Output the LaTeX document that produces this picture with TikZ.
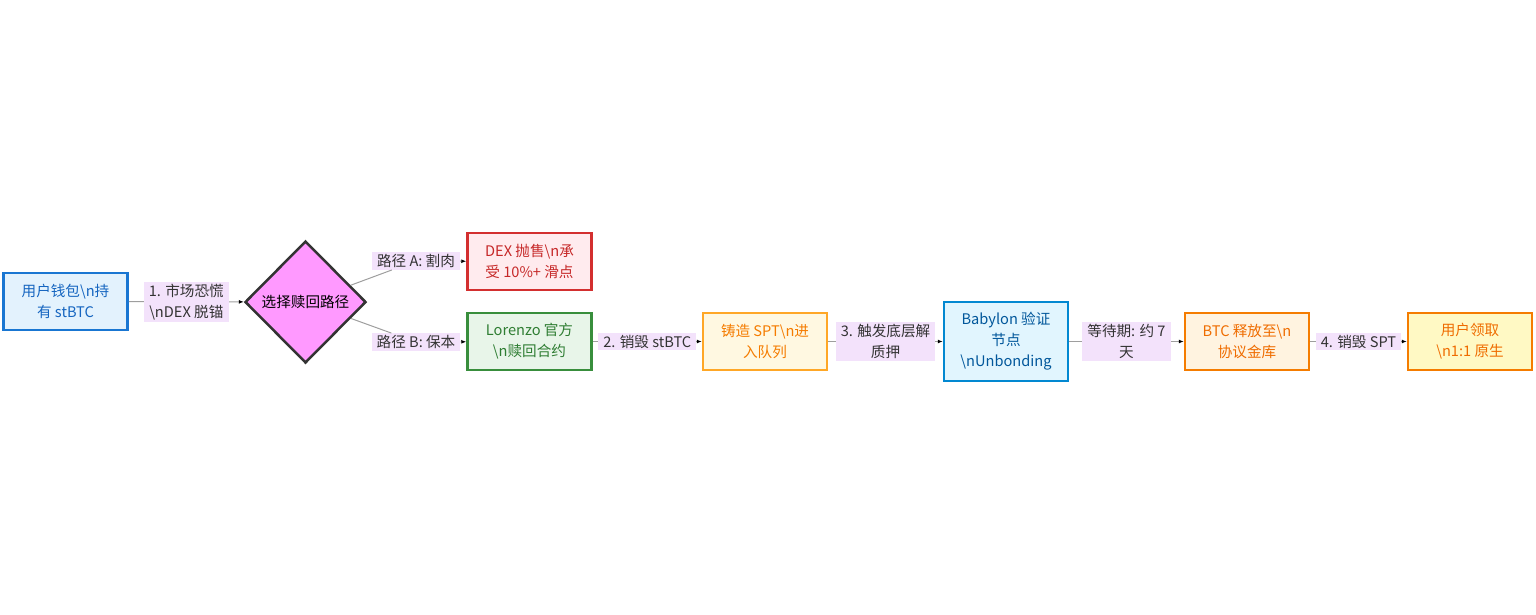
\documentclass[tikz,border=0pt]{standalone}
\usepackage{fontspec}
\setmainfont{Noto Sans CJK SC}
\usetikzlibrary{shapes.geometric,arrows.meta}
\definecolor{lblbg}{HTML}{F3E2FB}
\definecolor{edgec}{HTML}{9E9E9E}
\definecolor{txt}{HTML}{333333}
\definecolor{uB}{HTML}{1976D2}\definecolor{uF}{HTML}{E3F2FD}\definecolor{uT}{HTML}{1565C0}
\definecolor{dB}{HTML}{333333}\definecolor{dF}{HTML}{FF99FF}
\definecolor{xB}{HTML}{D32F2F}\definecolor{xF}{HTML}{FFEBEE}\definecolor{xT}{HTML}{C62828}
\definecolor{lB}{HTML}{388E3C}\definecolor{lF}{HTML}{E8F5E9}\definecolor{lT}{HTML}{2E7D32}
\definecolor{sB}{HTML}{FFA726}\definecolor{sF}{HTML}{FFF8E1}\definecolor{sT}{HTML}{F57C00}
\definecolor{bB}{HTML}{0288D1}\definecolor{bF}{HTML}{E1F5FE}\definecolor{bT}{HTML}{01579B}
\definecolor{cB}{HTML}{F57C00}\definecolor{cF}{HTML}{FFF3E0}\definecolor{cT}{HTML}{EF6C00}
\definecolor{fB}{HTML}{F57C00}\definecolor{fF}{HTML}{FFF9C4}\definecolor{fT}{HTML}{EF6C00}
\begin{document}
\begin{tikzpicture}[x=1pt,y=-1pt,
  every node/.style={font=\fontsize{14.6}{21}\selectfont},
  box/.style={draw, line width=2.5pt, rectangle, align=center, minimum width=124pt, minimum height=57pt, inner sep=2pt},
  lbl/.style={fill=lblbg, text=txt, align=center, inner xsep=5pt, inner ysep=2pt},
  edge/.style={draw=edgec, line width=1pt},
  arr/.style={edge, -{Latex[length=5pt,width=4pt,black]}}
]
\useasboundingbox (0,0) rectangle (1536,614);
\node[box, draw=uB, fill=uF, text=uT] (u) at (65.5,301.5) {用户钱包\textbackslash n持\\有 stBTC};
\node[diamond, draw=dB, fill=dF, line width=2.5pt, aspect=1, inner sep=0pt, minimum width=121pt, minimum height=122pt, text=black] (dia) at (305.5,302) {选择赎回路径};
\node[box, draw=xB, fill=xF, text=xT] (dex) at (529.5,261.5) {DEX 抛售\textbackslash n承\\受 10\%+ 滑点};
\node[box, draw=lB, fill=lF, text=lT] (lor) at (529.5,341.5) {Lorenzo 官方\\\textbackslash n赎回合约};
\node[box, draw=sB, fill=sF, text=sT] (spt) at (765,341.5) {铸造 SPT\textbackslash n进\\入队列};
\node[box, draw=bB, fill=bF, text=bT, minimum height=79pt] (bab) at (1006,341.5) {Babylon 验证\\节点\\\textbackslash nUnbonding};
\node[box, draw=cB, fill=cF, text=cT] (btc) at (1247,341.5) {BTC 释放至\textbackslash n\\协议金库};
\node[box, draw=fB, fill=fF, text=fT] (fin) at (1470,341.5) {用户领取\\\textbackslash n1:1 原生};

\node[lbl] (lA) at (416,261) {路径 A: 割肉};
\node[lbl] (lB) at (416,342) {路径 B: 保本};

\draw[arr] (u) -- node[lbl] {1. 市场恐慌\\\textbackslash nDEX 脱锚} (dia);
\draw[edge] (dia) -- (lA);
\draw[arr] (lA) -- (dex);
\draw[edge] (dia) -- (lB);
\draw[arr] (lB) -- (lor);
\draw[arr] (lor) -- node[lbl] {2. 销毁 stBTC} (spt);
\draw[arr] (spt) -- node[lbl] {3. 触发底层解\\质押} (bab);
\draw[arr] (bab) -- node[lbl] {等待期: 约 7\\天} (btc);
\draw[arr] (btc) -- node[lbl] {4. 销毁 SPT} (fin);
\end{tikzpicture}
\end{document}
